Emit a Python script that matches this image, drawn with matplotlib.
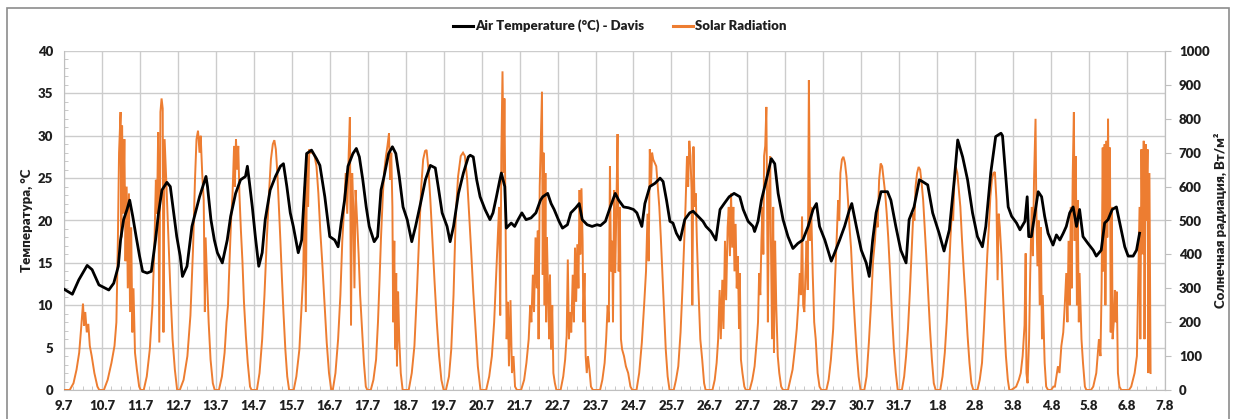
import matplotlib
matplotlib.use("Agg")
import matplotlib.pyplot as plt
from matplotlib import font_manager
from matplotlib.patches import Rectangle
from matplotlib.lines import Line2D
from matplotlib.ticker import MultipleLocator

# ---------------- data ----------------
# x axis: days since 9.7 00:00
date_labels = ["9.7", "10.7", "11.7", "12.7", "13.7", "14.7", "15.7", "16.7", "17.7",
               "18.7", "19.7", "20.7", "21.7", "22.7", "23.7", "24.7", "25.7", "26.7",
               "27.7", "28.7", "29.7", "30.7", "31.7", "1.8", "2.8", "3.8", "4.8",
               "5.8", "6.8", "7.8"]
temp_ticks = [0, 5, 10, 15, 20, 25, 30, 35, 40]
solar_ticks = [0, 100, 200, 300, 400, 500, 600, 700, 800, 900, 1000]

# Air temperature (°C) - Davis: (day, value)
temp_w1 = [(0.00, 11.9), (0.22, 11.3), (0.39, 13.0), (0.61, 14.7), (0.74, 14.2), (0.92, 12.4),
           (1.18, 11.8), (1.31, 12.6), (1.43, 14.6), (1.49, 17.7), (1.57, 20.1), (1.66, 21.3),
           (1.73, 22.4), (1.81, 20.5), (1.90, 18.1), (1.99, 15.8), (2.07, 14.0), (2.19, 13.8),
           (2.30, 14.0), (2.41, 17.7), (2.49, 20.9), (2.58, 23.6), (2.71, 24.5), (2.80, 24.0),
           (2.89, 20.9), (2.97, 18.1), (3.06, 15.8), (3.12, 13.4), (3.24, 14.6), (3.37, 19.3),
           (3.46, 20.9), (3.57, 22.8), (3.74, 25.2), (3.78, 24.0), (3.87, 20.1), (3.96, 17.7),
           (4.04, 16.2), (4.17, 15.0), (4.30, 17.7), (4.39, 20.5), (4.52, 23.2), (4.65, 24.8),
           (4.78, 25.2), (4.83, 26.4), (4.87, 25.0), (4.96, 21.6), (5.04, 18.1), (5.13, 14.6),
           (5.22, 16.2), (5.30, 20.1), (5.43, 23.6), (5.57, 25.2), (5.70, 26.4), (5.78, 26.7),
           (5.87, 24.0), (5.96, 20.9), (6.04, 19.3), (6.17, 16.2), (6.26, 17.7), (6.39, 27.9),
           (6.52, 28.3), (6.65, 27.3), (6.74, 26.5), (6.87, 22.8)]
temp_w2 = [(7.00, 18.1), (7.13, 17.7), (7.22, 16.9), (7.30, 19.7), (7.39, 22.4), (7.48, 26.4),
           (7.61, 27.9), (7.70, 28.5), (7.78, 27.5), (7.87, 24.8), (7.96, 21.6), (8.04, 19.3),
           (8.17, 17.5), (8.26, 18.1), (8.35, 23.6), (8.43, 25.2), (8.55, 27.9), (8.65, 28.7),
           (8.74, 27.9), (8.83, 25.2), (8.93, 21.6), (9.04, 20.1), (9.16, 17.5), (9.26, 19.3),
           (9.39, 22.0), (9.52, 24.8), (9.65, 26.5), (9.78, 26.2), (9.87, 23.6), (9.96, 20.9),
           (10.09, 19.3), (10.17, 17.5), (10.26, 19.3), (10.39, 23.2), (10.52, 25.6),
           (10.65, 27.5), (10.70, 27.7), (10.78, 27.5), (10.87, 24.8), (10.96, 22.8),
           (11.09, 21.3), (11.22, 20.1), (11.30, 20.9), (11.39, 22.8), (11.48, 24.8),
           (11.52, 25.6), (11.61, 24.0), (11.65, 19.1), (11.78, 19.7), (11.87, 19.3),
           (11.96, 20.1), (12.06, 20.9), (12.17, 20.1), (12.30, 20.3), (12.43, 20.9),
           (12.55, 22.4), (12.61, 22.8), (12.74, 23.2), (12.83, 22.0), (12.91, 21.3),
           (13.04, 19.9), (13.13, 19.1), (13.26, 19.5), (13.35, 20.9), (13.48, 21.5),
           (13.57, 22.0), (13.65, 20.1), (13.78, 19.5), (13.91, 19.3)]
temp_w3 = [(14.04, 19.5), (14.13, 19.4), (14.26, 19.9), (14.39, 21.6), (14.52, 23.2),
           (14.61, 22.4), (14.74, 21.6), (14.87, 21.5), (15.00, 21.3), (15.09, 20.9),
           (15.22, 19.3), (15.30, 22.0), (15.43, 24.0), (15.57, 24.4), (15.70, 25.0),
           (15.78, 24.6), (15.87, 22.4), (15.96, 19.9), (16.04, 19.7), (16.13, 18.5),
           (16.23, 17.7), (16.35, 20.1), (16.48, 20.9), (16.57, 21.1), (16.70, 20.5),
           (16.83, 19.9), (16.91, 19.3), (17.04, 18.7), (17.17, 17.7), (17.28, 21.3),
           (17.39, 22.0), (17.52, 22.8), (17.65, 23.2), (17.80, 22.8), (17.89, 21.3),
           (18.02, 19.9), (18.15, 19.3), (18.19, 18.7), (18.28, 19.9), (18.37, 22.4),
           (18.50, 24.8), (18.63, 27.3), (18.72, 26.7), (18.81, 23.2), (18.94, 20.1),
           (19.07, 18.1), (19.20, 16.7), (19.33, 17.3), (19.46, 17.7), (19.60, 19.3),
           (19.73, 21.3), (19.82, 22.0), (19.90, 19.3), (20.04, 17.7), (20.21, 15.2),
           (20.30, 16.2), (20.43, 17.7), (20.56, 19.3), (20.69, 21.3), (20.75, 22.0),
           (20.87, 19.3)]
temp_w4 = [(21.00, 16.5), (21.13, 15.0), (21.21, 13.4), (21.30, 17.7), (21.39, 20.9),
           (21.52, 23.4), (21.69, 23.4), (21.78, 22.4), (21.91, 19.3), (22.04, 16.5),
           (22.18, 15.0), (22.26, 20.1), (22.39, 21.6), (22.53, 24.8), (22.61, 24.6),
           (22.75, 24.2), (22.88, 20.9), (23.05, 18.5), (23.18, 16.4), (23.32, 18.9),
           (23.45, 24.8), (23.54, 29.5), (23.67, 27.5), (23.80, 24.8), (23.93, 20.9),
           (24.06, 18.1), (24.19, 16.9), (24.28, 19.3), (24.41, 25.6), (24.54, 29.9),
           (24.68, 30.3), (24.72, 30.0), (24.80, 25.5), (24.87, 21.6), (24.96, 20.5),
           (25.09, 19.7), (25.18, 18.9), (25.31, 19.9), (25.37, 22.8), (25.41, 18.1),
           (25.48, 18.1), (25.66, 23.4), (25.75, 22.8), (25.83, 20.5), (25.92, 18.5),
           (26.05, 17.1), (26.14, 18.3), (26.23, 17.7), (26.32, 18.5), (26.40, 19.3),
           (26.49, 20.9), (26.58, 21.6), (26.67, 19.3), (26.75, 21.3), (26.84, 18.1),
           (26.97, 17.3), (27.11, 16.5), (27.19, 15.8), (27.32, 16.5), (27.41, 19.7),
           (27.50, 20.1), (27.61, 21.3), (27.72, 21.6), (27.81, 19.7), (27.94, 16.9),
           (28.03, 15.8), (28.16, 15.8), (28.25, 16.5), (28.33, 18.5)]

# Solar radiation (W/m2): (day, value)
solar_w1 = [(0.00, 0), (0.15, 0), (0.25, 20), (0.33, 60), (0.40, 110), (0.45, 180), (0.50, 255),
            (0.53, 190), (0.56, 230), (0.60, 170), (0.64, 195), (0.68, 130), (0.73, 100),
            (0.80, 50), (0.88, 10), (0.93, 0),
            (1.05, 0), (1.15, 30), (1.25, 80), (1.33, 130), (1.38, 200), (1.42, 450), (1.45, 700),
            (1.49, 820), (1.51, 450), (1.53, 780), (1.56, 520), (1.59, 740), (1.62, 380),
            (1.65, 600), (1.68, 300), (1.71, 580), (1.74, 230), (1.77, 480), (1.80, 170),
            (1.83, 300), (1.87, 110), (1.92, 60), (1.98, 10), (2.02, 0),
            (2.10, 0), (2.18, 40), (2.26, 120), (2.33, 250), (2.38, 420), (2.42, 620), (2.45, 520),
            (2.48, 760), (2.51, 140), (2.54, 820), (2.57, 860), (2.60, 830), (2.62, 170),
            (2.65, 740), (2.70, 600), (2.75, 450), (2.80, 300), (2.86, 150), (2.92, 60), (2.98, 0),
            (3.05, 0), (3.15, 30), (3.25, 100), (3.33, 220), (3.40, 420), (3.45, 620), (3.49, 740),
            (3.53, 765), (3.57, 700), (3.60, 750), (3.64, 640), (3.68, 560), (3.71, 230),
            (3.73, 450), (3.77, 320), (3.81, 200), (3.86, 90), (3.92, 20), (3.97, 0),
            (4.08, 0), (4.16, 40), (4.23, 110), (4.28, 200), (4.32, 250), (4.36, 380), (4.40, 500),
            (4.44, 580), (4.48, 720), (4.50, 600), (4.53, 740), (4.56, 650), (4.59, 720),
            (4.62, 580), (4.66, 470), (4.70, 380), (4.74, 260), (4.79, 160), (4.84, 80),
            (4.90, 10), (4.94, 0),
            (5.08, 0), (5.15, 50), (5.22, 150), (5.28, 280), (5.34, 440), (5.40, 580), (5.45, 680),
            (5.50, 725), (5.54, 737), (5.58, 710), (5.62, 640), (5.66, 540), (5.70, 440),
            (5.74, 330), (5.78, 230), (5.83, 120), (5.88, 40), (5.93, 0),
            (6.05, 0), (6.12, 40), (6.20, 120), (6.25, 230), (6.30, 340), (6.34, 600), (6.37, 230),
            (6.40, 700), (6.43, 540), (6.46, 710), (6.50, 700), (6.55, 700), (6.60, 690),
            (6.65, 660), (6.70, 580), (6.75, 470), (6.80, 380), (6.86, 260), (6.92, 140),
            (6.98, 50), (7.04, 0)]
solar_w2 = [(7.08, 0), (7.15, 50), (7.22, 150), (7.28, 280), (7.33, 440), (7.38, 540), (7.42, 640),
            (7.46, 520), (7.50, 700), (7.53, 805), (7.56, 190), (7.59, 640), (7.62, 540),
            (7.65, 300), (7.68, 590), (7.72, 500), (7.76, 400), (7.80, 280), (7.85, 180),
            (7.90, 80), (7.95, 10), (7.99, 0),
            (8.08, 0), (8.15, 30), (8.22, 90), (8.27, 200), (8.31, 320), (8.35, 450), (8.40, 580),
            (8.44, 650), (8.48, 690), (8.52, 720), (8.56, 757), (8.59, 620), (8.62, 700),
            (8.65, 540), (8.67, 200), (8.70, 440), (8.72, 120), (8.75, 345), (8.77, 70),
            (8.80, 290), (8.83, 150), (8.87, 50), (8.92, 0),
            (9.08, 0), (9.16, 50), (9.23, 130), (9.30, 300), (9.36, 470), (9.41, 600), (9.46, 680),
            (9.51, 705), (9.55, 708), (9.60, 650), (9.65, 560), (9.70, 450), (9.76, 320),
            (9.82, 200), (9.88, 100), (9.94, 30), (10.00, 0),
            (10.06, 0), (10.14, 40), (10.20, 120), (10.26, 280), (10.32, 520), (10.38, 630),
            (10.45, 690), (10.51, 700), (10.56, 690), (10.62, 620), (10.67, 520), (10.72, 420),
            (10.78, 290), (10.84, 180), (10.90, 70), (10.97, 0),
            (11.12, 0), (11.20, 40), (11.27, 100), (11.33, 200), (11.38, 330), (11.42, 440),
            (11.46, 540), (11.49, 220), (11.52, 700), (11.55, 940), (11.58, 640), (11.60, 860),
            (11.63, 500), (11.66, 150), (11.69, 260), (11.72, 70), (11.76, 265), (11.80, 50),
            (11.84, 100), (11.88, 10), (11.93, 0),
            (12.04, 0), (12.12, 30), (12.18, 80), (12.24, 150), (12.28, 250), (12.31, 200),
            (12.35, 340), (12.38, 230), (12.42, 450), (12.45, 300), (12.48, 470), (12.50, 150),
            (12.53, 600), (12.56, 735), (12.59, 880), (12.61, 340), (12.63, 700), (12.66, 250),
            (12.68, 640), (12.70, 200), (12.72, 450), (12.75, 290), (12.78, 150), (12.80, 340),
            (12.83, 120), (12.86, 250), (12.89, 50), (12.93, 20), (12.97, 0),
            (13.08, 0), (13.15, 40), (13.20, 90), (13.24, 160), (13.27, 385), (13.30, 150),
            (13.33, 230), (13.36, 170), (13.40, 340), (13.43, 200), (13.46, 420), (13.49, 260),
            (13.52, 430), (13.55, 300), (13.58, 590), (13.60, 400), (13.63, 595), (13.66, 440),
            (13.68, 200), (13.71, 345), (13.74, 100), (13.77, 50), (13.80, 100), (13.84, 60),
            (13.88, 10), (13.93, 0)]
solar_w3 = [(14.12, 0), (14.18, 30), (14.24, 80), (14.28, 150), (14.32, 250), (14.35, 200),
            (14.38, 660), (14.41, 350), (14.44, 440), (14.46, 200), (14.49, 590), (14.52, 345),
            (14.55, 540), (14.58, 755), (14.61, 350), (14.64, 540), (14.67, 150), (14.70, 120),
            (14.75, 100), (14.80, 70), (14.86, 50), (14.92, 10), (14.97, 0),
            (15.08, 0), (15.15, 50), (15.22, 140), (15.28, 250), (15.33, 350), (15.37, 520),
            (15.40, 380), (15.43, 710), (15.46, 600), (15.49, 700), (15.52, 680), (15.56, 670),
            (15.60, 660), (15.64, 600), (15.68, 540), (15.72, 450), (15.76, 350), (15.80, 250),
            (15.85, 120), (15.90, 40), (15.95, 0),
            (16.06, 0), (16.12, 30), (16.18, 70), (16.24, 170), (16.29, 300), (16.33, 420),
            (16.37, 540), (16.41, 690), (16.44, 600), (16.47, 735), (16.50, 690), (16.53, 590),
            (16.55, 250), (16.58, 718), (16.61, 540), (16.64, 580), (16.67, 440), (16.71, 300),
            (16.76, 150), (16.81, 90), (16.86, 20), (16.90, 0),
            (17.08, 0), (17.14, 30), (17.19, 80), (17.23, 150), (17.27, 295), (17.30, 150),
            (17.34, 325), (17.37, 180), (17.41, 440), (17.44, 265), (17.48, 480), (17.51, 540),
            (17.54, 395), (17.57, 580), (17.60, 420), (17.63, 540), (17.66, 350), (17.69, 490),
            (17.72, 300), (17.75, 395), (17.78, 180), (17.80, 345), (17.83, 90), (17.87, 50),
            (17.92, 10), (17.96, 0),
            (18.06, 0), (18.13, 30), (18.19, 70), (18.25, 150), (18.28, 200), (18.31, 345),
            (18.34, 280), (18.37, 440), (18.40, 540), (18.42, 400), (18.44, 690), (18.47, 720),
            (18.50, 835), (18.52, 540), (18.54, 200), (18.57, 590), (18.60, 690), (18.62, 440),
            (18.65, 150), (18.68, 540), (18.70, 110), (18.73, 440), (18.76, 250), (18.80, 100),
            (18.84, 50), (18.89, 10), (18.94, 0),
            (19.07, 0), (19.13, 30), (19.19, 60), (19.25, 120), (19.30, 180), (19.34, 250),
            (19.38, 345), (19.41, 280), (19.44, 512), (19.47, 250), (19.50, 230), (19.53, 345),
            (19.56, 440), (19.59, 295), (19.62, 914), (19.64, 640), (19.66, 440), (19.68, 540),
            (19.72, 345), (19.76, 200), (19.80, 150), (19.85, 50), (19.90, 10), (19.95, 0),
            (20.08, 0), (20.14, 30), (20.20, 90), (20.26, 180), (20.31, 330), (20.35, 440),
            (20.39, 560), (20.42, 500), (20.45, 640), (20.49, 680), (20.53, 688), (20.57, 670),
            (20.61, 630), (20.65, 560), (20.69, 480), (20.73, 420), (20.78, 300), (20.83, 200),
            (20.88, 110), (20.93, 40), (20.98, 0)]
solar_w4 = [(21.08, 0), (21.14, 40), (21.20, 140), (21.26, 260), (21.31, 380), (21.36, 440),
            (21.40, 520), (21.43, 480), (21.47, 620), (21.51, 668), (21.55, 660), (21.59, 620),
            (21.63, 580), (21.67, 520), (21.71, 450), (21.76, 340), (21.81, 220), (21.86, 120),
            (21.91, 50), (21.96, 0),
            (22.07, 0), (22.13, 40), (22.18, 100), (22.23, 180), (22.28, 290), (22.33, 420),
            (22.37, 520), (22.40, 500), (22.43, 600), (22.47, 640), (22.51, 658), (22.55, 650),
            (22.59, 610), (22.63, 560), (22.67, 480), (22.71, 400), (22.76, 290), (22.81, 180),
            (22.86, 90), (22.91, 20), (22.96, 0),
            (23.08, 0), (23.14, 40), (23.20, 110), (23.25, 200), (23.30, 320), (23.35, 450),
            (23.39, 540), (23.42, 500), (23.45, 610), (23.49, 658), (23.53, 640), (23.57, 590),
            (23.61, 540), (23.65, 450), (23.70, 350), (23.75, 260), (23.80, 160), (23.85, 80),
            (23.90, 20), (23.95, 0),
            (24.06, 0), (24.12, 30), (24.18, 80), (24.23, 180), (24.28, 300), (24.32, 400),
            (24.36, 480), (24.40, 570), (24.44, 620), (24.48, 640), (24.52, 643), (24.56, 560),
            (24.59, 324), (24.62, 520), (24.65, 480), (24.69, 400), (24.73, 290), (24.77, 190),
            (24.81, 100), (24.86, 30), (24.90, 0),
            (24.95, 0), (25.08, 10), (25.15, 30), (25.20, 50), (25.25, 100), (25.30, 190),
            (25.33, 403), (25.35, 50), (25.38, 20), (25.42, 150), (25.45, 345), (25.49, 540),
            (25.52, 395), (25.55, 620), (25.59, 800), (25.61, 540), (25.64, 365), (25.67, 500),
            (25.70, 250), (25.73, 480), (25.76, 150), (25.78, 280), (25.83, 80), (25.87, 10),
            (25.92, 0),
            (26.00, 0), (26.06, 10), (26.10, 10), (26.18, 70), (26.22, 50), (26.27, 130),
            (26.32, 170), (26.36, 250), (26.40, 345), (26.43, 200), (26.46, 440), (26.49, 250),
            (26.52, 540), (26.54, 300), (26.57, 640), (26.60, 820), (26.62, 440), (26.65, 690),
            (26.68, 250), (26.70, 560), (26.73, 200), (26.75, 345), (26.80, 150), (26.84, 80),
            (26.89, 10), (26.93, 0),
            (27.05, 0), (27.11, 10), (27.19, 50), (27.26, 150), (27.30, 100), (27.33, 300),
            (27.36, 715), (27.38, 350), (27.41, 725), (27.43, 250), (27.46, 735), (27.48, 450),
            (27.50, 800), (27.52, 500), (27.55, 715), (27.57, 170), (27.60, 540), (27.62, 150),
            (27.65, 200), (27.68, 295), (27.70, 200), (27.73, 290), (27.76, 50), (27.80, 10),
            (27.85, 0),
            (28.05, 0), (28.11, 10), (28.20, 50), (28.26, 100), (28.30, 345), (28.33, 540),
            (28.35, 150), (28.38, 710), (28.41, 400), (28.44, 735), (28.46, 150), (28.49, 725),
            (28.51, 500), (28.54, 710), (28.56, 50), (28.59, 640), (28.62, 50)]

temp_pts = temp_w1 + temp_w2 + temp_w3 + temp_w4
solar_pts = solar_w1 + solar_w2 + solar_w3 + solar_w4
temp_t = [p[0] for p in temp_pts]
temp_v = [p[1] for p in temp_pts]
solar_t = [p[0] for p in solar_pts]
solar_v = [p[1] for p in solar_pts]

# ---------------- style ----------------
def pick_bold_family(cands):
    for fam in cands:
        for f in font_manager.fontManager.ttflist:
            w = f.weight if isinstance(f.weight, int) else {'bold': 700, 'heavy': 800,
                                                            'black': 900, 'semibold': 600,
                                                            'demibold': 600}.get(str(f.weight), 400)
            if f.name == fam and w >= 600:
                return fam
    return 'DejaVu Sans'

FAM = pick_bold_family(['Lato', 'Roboto', 'Open Sans', 'Noto Sans', 'Liberation Sans'])
plt.rcParams['font.family'] = [FAM, 'Open Sans', 'DejaVu Sans']
plt.rcParams['font.weight'] = 'heavy'
WT = 'heavy'
FS = 9.5 if FAM == 'Lato' else 8.8
ORANGE = '#ED7D31'
GRID = '#cccccc'
TXT = '#1f1f1f'

fig = plt.figure(figsize=(12.39, 4.19), dpi=100)
W, H = 1239, 419
ax = fig.add_axes([64 / W, 1 - 390 / H, (1165 - 64) / W, (390 - 51) / H])
ax2 = ax.twinx()
ax3 = ax.twinx()

# frame around figure
fig.patches.append(Rectangle((7 / W, -0.05), (1229 - 7) / W, 1.05 - 8 / H,
                             transform=fig.transFigure, fill=False,
                             edgecolor='#8c8c8c', linewidth=1.2))

ndays = len(date_labels) - 1
ax.set_xlim(0, ndays)
ax.set_ylim(temp_ticks[0], temp_ticks[-1])
ax.set_xticks(range(len(date_labels)))
ax.set_xticklabels(date_labels, fontweight=WT)
ax.set_yticks(temp_ticks)
ax.set_yticklabels([str(v) for v in temp_ticks], fontweight=WT)
ax.xaxis.set_minor_locator(MultipleLocator(0.25))
ax.yaxis.set_minor_locator(MultipleLocator(1))
ax.grid(True, which='major', color=GRID, linewidth=1.0)
ax.set_axisbelow(True)
ax.tick_params(axis='x', which='major', length=0, pad=7, labelsize=FS, labelcolor=TXT)
ax.tick_params(axis='x', which='minor', length=3, direction='in', color='#bfbfbf')
ax.tick_params(axis='y', which='major', length=0, pad=8, labelsize=FS, labelcolor=TXT)
ax.tick_params(axis='y', which='minor', length=3, direction='in', color='#bfbfbf')
ax.spines['top'].set_visible(False)
for s in ['left', 'bottom', 'right']:
    ax.spines[s].set_color('#bfbfbf')
ax.set_ylabel('Температура, °C', fontsize=FS, fontweight=WT, color=TXT, labelpad=3)

# solar radiation on secondary axis
ax2.plot(solar_t, solar_v, color=ORANGE, linewidth=1.4, solid_joinstyle='miter')
ax2.set_ylim(solar_ticks[0], solar_ticks[-1])
ax2.set_yticks(solar_ticks)
ax2.set_yticklabels([str(v) for v in solar_ticks], fontweight=WT)
ax2.tick_params(axis='y', which='major', length=4, direction='out', color='#bfbfbf',
                pad=6, labelsize=FS, labelcolor=TXT)
for s in ['top', 'left', 'bottom']:
    ax2.spines[s].set_visible(False)
ax2.spines['right'].set_color('#bfbfbf')
ax2.set_ylabel('Солнечная радиация, Вт/м²', fontsize=FS, fontweight=WT,
               color=TXT, labelpad=3)

# temperature on top
ax3.plot(temp_t, temp_v, color='black', linewidth=2.0)
ax3.set_ylim(temp_ticks[0], temp_ticks[-1])
ax3.set_axis_off()

handles = [Line2D([], [], color='black', linewidth=2.2),
           Line2D([], [], color=ORANGE, linewidth=2.2)]
leg = fig.legend(handles, ['Air Temperature (°C) - Davis', 'Solar Radiation'],
                 loc='center', bbox_to_anchor=(0.5, 1 - 26 / H), ncol=2, frameon=False,
                 prop={'size': FS, 'weight': WT},
                 handlelength=1.5, handletextpad=0.15, columnspacing=2.2)
for t in leg.get_texts():
    t.set_color(TXT)

fig.savefig('out.png', dpi=100)
